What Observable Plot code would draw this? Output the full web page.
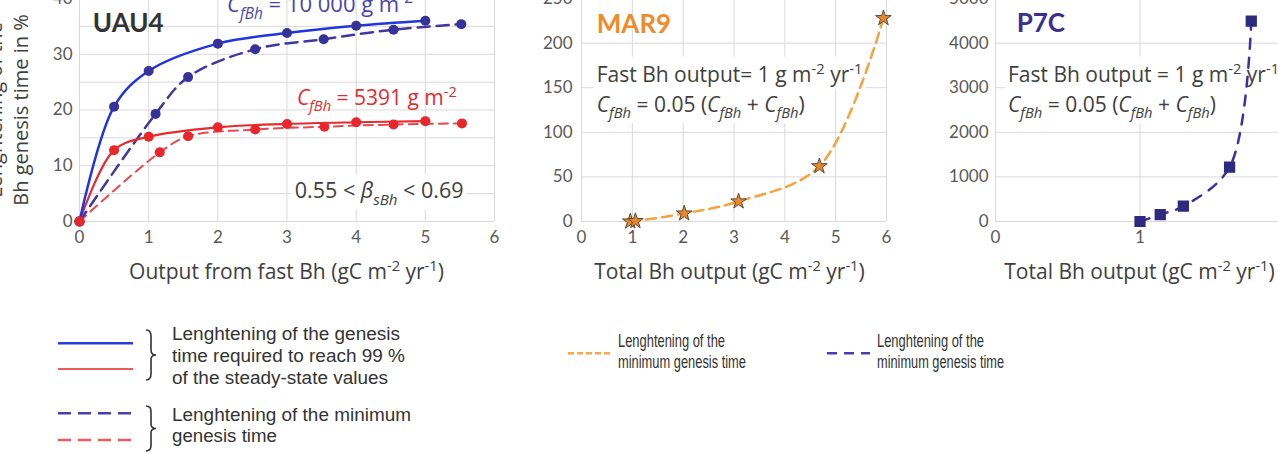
<!DOCTYPE html>
<html><head><meta charset="utf-8">
<script src="https://cdn.jsdelivr.net/npm/d3@7"></script>
<script src="https://cdn.jsdelivr.net/npm/@observablehq/plot@0.6"></script>
<style>
html,body{margin:0;padding:0;background:#fff;}
#wrap{position:relative;width:1278px;height:454px;overflow:hidden;background:#fff;}
.panel{position:absolute;top:-20px;}
#legend{position:absolute;left:0;top:0;}
</style></head><body><div id="wrap"></div>
<script>
// ---------- data ----------
const uauXTicks = [0, 1, 2, 3, 4, 5, 6];
const uauYTicks = [0, 10, 20, 30, 40];
const uauYGrid = [0, 5, 10, 15, 20, 25, 30, 35, 40];
const uauSolidBlueX = [0, 0.5, 1, 2, 3, 4, 5];
const uauSolidBlueY = [0, 20.6, 27.0, 31.9, 33.8, 35.1, 36.0];
const uauDashBlueX = [0, 1.1, 1.57, 2.54, 3.53, 4.54, 5.52];
const uauDashBlueY = [0, 19.3, 25.9, 30.9, 32.7, 34.4, 35.4];
const uauSolidRedX = [0, 0.5, 1, 2, 3, 4, 5];
const uauSolidRedY = [0, 12.8, 15.2, 16.9, 17.5, 17.8, 18.0];
const uauDashRedX = [0, 1.16, 1.57, 2.54, 3.54, 4.54, 5.53];
const uauDashRedY = [0, 12.4, 15.3, 16.5, 17.0, 17.4, 17.6];

const marXTicks = [0, 1, 2, 3, 4, 5, 6];
const marYTicks = [0, 50, 100, 150, 200, 250];
const marX = [0.96, 1.06, 2.02, 3.09, 4.68, 5.94];
const marY = [0, 0.5, 9, 22.5, 62, 228];

const p7cXTicks = [0, 1, 2];
const p7cYTicks = [0, 1000, 2000, 3000, 4000, 5000];
const p7cX = [1.0, 1.14, 1.30, 1.62, 1.77];
const p7cY = [0, 155, 343, 1217, 4490];

const legendTexts1 = ["Lenghtening of the genesis", "time required to reach 99 %", "of the steady-state values"];
const legendTexts2 = ["Lenghtening of the minimum", "genesis time"];
const legendTextsMin = ["Lenghtening of the", "minimum genesis time"];

// ---------- helpers ----------
const NS = "http://www.w3.org/2000/svg";
const rows = (xs, ys) => xs.map((x, i) => ({x, y: ys[i]}));
const fmt = d => String(d);
function el(name, attrs = {}) {
  const e = document.createElementNS(NS, name);
  for (const k in attrs) e.setAttribute(k, attrs[k]);
  return e;
}
// segs: [text, mode]; mode contains "i" (italic), "b" (subscript), "p" (superscript)
function rich(x, y, segs, o = {}) {
  const base = o.size || 21;
  const t = el("text", {x, y, "font-size": base, fill: o.fill || "#404040",
    "text-anchor": o.anchor || "start", "font-family": o.font || "Open Sans"});
  if (o.weight) t.setAttribute("font-weight", o.weight);
  if (o.bg) t.setAttribute("class", "bgtext");
  t.setAttribute("xml:space", "preserve");
  let off = 0;
  for (const seg of segs) {
    const [txt, mode = ""] = typeof seg === "string" ? [seg, ""] : seg;
    const ts = el("tspan");
    let target = 0, fs = base;
    if (mode.includes("b")) { target = 0.3 * base; fs = 0.7 * base; }
    if (mode.includes("p")) { target = -0.4 * base; fs = 0.7 * base; }
    if (mode.includes("i")) ts.setAttribute("font-style", "italic");
    ts.setAttribute("font-size", fs);
    ts.setAttribute("dy", target - off);
    off = target;
    ts.textContent = txt;
    t.appendChild(ts);
  }
  return t;
}
const CfBh = [["C", "i"], ["fBh", "ib"]];
const unitSegs = (pre) => [pre + " (gC m", ["-2", "p"], " yr", ["-1", "p"], ")"];

const baseStyle = {fontFamily: "Lato", fontSize: "17px", color: "#595959", background: "transparent", overflow: "visible"};
const gridC = "#d9d9d9";

// ---------- Panel 1: UAU4 ----------
const p1 = Plot.plot({
  width: 510, height: 301, marginLeft: 79, marginRight: 16, marginTop: 18, marginBottom: 60,
  style: baseStyle,
  x: {domain: [0, 6], ticks: uauXTicks, tickSize: 0, tickPadding: 9, label: null, tickFormat: fmt},
  y: {domain: [0, 40], ticks: uauYTicks, tickSize: 0, tickPadding: 7, label: null, tickFormat: fmt},
  marks: [
    Plot.ruleY(uauYGrid, {stroke: gridC}),
    Plot.ruleX(uauXTicks, {stroke: gridC}),
    (index, {x, y}, values, dims) => {
      const g = el("g");
      g.appendChild(rich(x(3.12), y(4.1), ["0.55 < ", ["β", "i"], ["sBh", "ib"], " < 0.69"], {size: 21.5, fill: "#404040", bg: true}));
      return g;
    },
    Plot.line(rows(uauDashRedX, uauDashRedY), {x: "x", y: "y", stroke: "#ea484c", strokeWidth: 2, strokeDasharray: "9,6", curve: "catmull-rom"}),
    Plot.line(rows(uauDashBlueX, uauDashBlueY), {x: "x", y: "y", stroke: "#3d399f", strokeWidth: 2.5, strokeDasharray: "12,7", curve: "catmull-rom"}),
    Plot.line(rows(uauSolidRedX, uauSolidRedY), {x: "x", y: "y", stroke: "#e62b2f", strokeWidth: 2.2, curve: "catmull-rom"}),
    Plot.line(rows(uauSolidBlueX, uauSolidBlueY), {x: "x", y: "y", stroke: "#2034e0", strokeWidth: 2.5, curve: "catmull-rom"}),
    Plot.dot(rows(uauDashBlueX, uauDashBlueY), {x: "x", y: "y", r: 5, fill: "#35329a"}),
    Plot.dot(rows(uauSolidBlueX, uauSolidBlueY), {x: "x", y: "y", r: 5, fill: "#35329a"}),
    Plot.dot(rows(uauDashRedX, uauDashRedY), {x: "x", y: "y", r: 5, fill: "#e8262b"}),
    Plot.dot(rows(uauSolidRedX, uauSolidRedY), {x: "x", y: "y", r: 5, fill: "#e8262b"}),
    (index, {x, y}, values, dims) => {
      const g = el("g");
      g.appendChild(rich(x(0.2), y(33.9), ["UAU4"], {size: 26, weight: "bold", fill: "#333", font: "Lato"}));
      g.appendChild(rich(x(2.14), y(37.5), [...CfBh, " = 10 000 g m", ["-2", "p"]], {size: 22, fill: "#4a45a8"}));
      g.appendChild(rich(x(3.15), y(20.8), [...CfBh, " = 5391 g m", ["-2", "p"]], {size: 21, fill: "#e62b2f"}));
      const cx = (dims.marginLeft + dims.width - dims.marginRight) / 2;
      g.appendChild(rich(cx, dims.height - dims.marginBottom + 58, unitSegs("Output from fast Bh"), {size: 21, anchor: "middle"}));
      const yl = el("g", {transform: "translate(28,130) rotate(-90)"});
      yl.appendChild(rich(0, -26, ["Lenghtening of the"], {size: 20, anchor: "middle"}));
      yl.appendChild(rich(0, 0, ["Bh genesis time in %"], {size: 20, anchor: "middle"}));
      g.appendChild(yl);
      return g;
    }
  ]
});

// ---------- Panel 2: MAR9 ----------
const p2 = Plot.plot({
  width: 400, height: 301, marginLeft: 81, marginRight: 14, marginTop: 18, marginBottom: 60,
  style: baseStyle,
  x: {domain: [0, 6], ticks: marXTicks, tickSize: 0, tickPadding: 9, label: null, tickFormat: fmt},
  y: {domain: [0, 250], ticks: marYTicks, tickSize: 0, tickPadding: 9, label: null, tickFormat: fmt},
  marks: [
    Plot.ruleY(marYTicks, {stroke: gridC}),
    Plot.ruleX(marXTicks, {stroke: gridC}),
    (index, {x, y}, values, dims) => {
      const g = el("g");
      g.appendChild(rich(x(0.31), y(155.8), ["Fast Bh output= 1 g m", ["-2", "p"], " yr", ["-1", "p"]], {size: 21, bg: true}));
      g.appendChild(rich(x(0.31), y(122.2), [...CfBh, " = 0.05 (", ...CfBh, " + ", ...CfBh, ")"], {size: 21, bg: true}));
      return g;
    },
    Plot.line(rows(marX, marY), {x: "x", y: "y", stroke: "#f7a23c", strokeWidth: 2.5, strokeDasharray: "10,6", curve: "catmull-rom"}),
    Plot.dot(rows(marX, marY), {x: "x", y: "y", symbol: "star", r: 4.9, fill: "#e8882a", stroke: "#5a4a3c", strokeWidth: 1}),
    (index, {x, y}, values, dims) => {
      const g = el("g");
      g.appendChild(rich(x(0.31), y(210.8), ["MAR9"], {size: 26, weight: "bold", fill: "#f08a2a", font: "Lato"}));
      const cx = (dims.marginLeft + dims.width - dims.marginRight) / 2;
      g.appendChild(rich(cx - 4, dims.height - dims.marginBottom + 58, unitSegs("Total Bh output"), {size: 21, anchor: "middle"}));
      return g;
    }
  ]
});

// ---------- Panel 3: P7C ----------
const p3 = Plot.plot({
  width: 400, height: 301, marginLeft: 95, marginRight: 16, marginTop: 18, marginBottom: 60,
  style: baseStyle,
  x: {domain: [0, 2], ticks: p7cXTicks, tickSize: 0, tickPadding: 9, label: null, tickFormat: fmt},
  y: {domain: [0, 5000], ticks: p7cYTicks, tickSize: 0, tickPadding: 7, label: null, tickFormat: fmt},
  marks: [
    Plot.ruleY(p7cYTicks, {stroke: gridC}),
    Plot.ruleX(p7cXTicks, {stroke: gridC}),
    (index, {x, y}, values, dims) => {
      const g = el("g");
      g.appendChild(rich(x(0.09), y(3117), ["Fast Bh output = 1 g m", ["-2", "p"], " yr", ["-1", "p"]], {size: 21, bg: true}));
      g.appendChild(rich(x(0.09), y(2444), [...CfBh, " = 0.05 (", ...CfBh, " + ", ...CfBh, ")"], {size: 21, bg: true}));
      return g;
    },
    Plot.line(rows(p7cX, p7cY), {x: "x", y: "y", stroke: "#3a30a2", strokeWidth: 2.5, strokeDasharray: "10,9", curve: "catmull-rom"}),
    Plot.dot(rows(p7cX, p7cY), {x: "x", y: "y", symbol: "square", r: 5.5, fill: "#2d2a80", stroke: "#2d2a80"}),
    (index, {x, y}, values, dims) => {
      const g = el("g");
      g.appendChild(rich(x(0.15), y(4238), ["P7C"], {size: 26, weight: "bold", fill: "#3b2f8f", font: "Lato"}));
      const cx = (dims.marginLeft + dims.width - dims.marginRight) / 2;
      g.appendChild(rich(cx, dims.height - dims.marginBottom + 58, unitSegs("Total Bh output"), {size: 21, anchor: "middle"}));
      return g;
    }
  ]
});

const wrap = document.getElementById("wrap");
[[p1, 0], [p2, 500], [p3, 900]].forEach(([p, left]) => {
  p.classList.add("panel");
  p.style.left = left + "px";
  wrap.appendChild(p);
});

// white boxes behind annotation texts
document.querySelectorAll("text.bgtext").forEach(t => {
  const b = t.getBBox();
  const r = el("rect", {x: b.x - 3, y: b.y - 1, width: b.width + 6, height: b.height + 2, fill: "#fff"});
  t.parentNode.insertBefore(r, t);
});

// ---------- Legend ----------
const lg = el("svg", {id: "legend", width: 1278, height: 454});
function lline(x1, x2, y, stroke, w, dash) {
  const l = el("line", {x1, x2, y1: y, y2: y, stroke, "stroke-width": w});
  if (dash) l.setAttribute("stroke-dasharray", dash);
  lg.appendChild(l);
}
function brace(x, y0, y1, w) {
  const ym = (y0 + y1) / 2, h = y1 - y0, m = x + w / 2;
  const d = `M${x},${y0} Q${m},${y0} ${m},${y0 + h * 0.12} L${m},${ym - h * 0.1} Q${m},${ym} ${x + w},${ym} Q${m},${ym} ${m},${ym + h * 0.1} L${m},${y1 - h * 0.12} Q${m},${y1} ${x},${y1}`;
  lg.appendChild(el("path", {d, fill: "none", stroke: "#333", "stroke-width": 1.6}));
}
function ltext(x, y, s, len, size) {
  const t = el("text", {x, y, "font-family": "Liberation Sans, Arial, sans-serif", "font-size": size, fill: "#333", textLength: len, lengthAdjust: "spacingAndGlyphs"});
  t.textContent = s;
  lg.appendChild(t);
}
lline(58, 133, 343.3, "#2a3ad8", 2.5);
lline(58, 133, 369, "#ec5a5f", 2);
lline(58, 133, 413.3, "#4540b0", 2.5, "13,7");
lline(58, 133, 440, "#ec5a5f", 2.5, "13,7");
brace(146, 330, 380, 10);
brace(146, 406, 451, 10);
[340, 362, 384].forEach((y, i) => ltext(172, y, legendTexts1[i], [228, 233, 216][i], 17.5));
[421, 442].forEach((y, i) => ltext(172, y, legendTexts2[i], [239, 105][i], 17.5));
lline(568, 612, 353.3, "#f9a846", 2.5, "6,3");
[347, 368].forEach((y, i) => ltext(618, y, legendTextsMin[i], [107, 128][i], 18.5));
lline(827, 870, 353.3, "#4a3cb8", 2.5, "10,7");
[347, 368].forEach((y, i) => ltext(877, y, legendTextsMin[i], [107, 127][i], 18.5));
wrap.appendChild(lg);
</script></body></html>
